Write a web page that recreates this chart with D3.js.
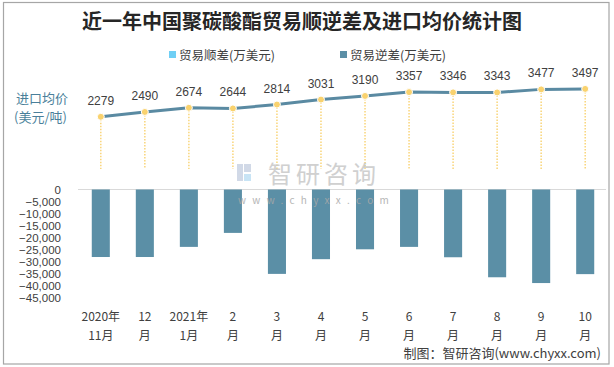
<!DOCTYPE html>
<html><head><meta charset="utf-8">
<script src="https://cdn.jsdelivr.net/npm/d3@7"></script>
<style>
body{margin:0;background:#fff;}
svg{display:block;font-family:"Noto Sans CJK SC","Noto Sans",sans-serif;}
</style></head>
<body>
<svg id="c" width="614" height="367"></svg>
<script>
const months1 = ["2020年","12","2021年","2","3","4","5","6","7","8","9","10"];
const months2 = ["11月","月","1月","月","月","月","月","月","月","月","月","月"];
const deficit = [-28000,-28000,-23800,-18000,-35000,-28900,-24800,-23800,-28100,-36400,-38800,-35100];
const surplus = [0,0,0,0,0,0,0,0,0,0,0,0];
const price = [2279,2490,2674,2644,2814,3031,3190,3357,3346,3343,3477,3497];
const yTicks = [0,-5000,-10000,-15000,-20000,-25000,-30000,-35000,-40000,-45000];

const svg = d3.select("#c");
svg.append("rect").attr("x",3.5).attr("y",2.5).attr("width",605.5).attr("height",361.5)
  .attr("fill","#fff").attr("stroke","#a6a6a6").attr("stroke-width",1.2);

svg.append("text").attr("x",302).attr("y",29).attr("text-anchor","middle")
  .attr("font-size",20).attr("font-weight","bold").attr("fill","#262626")
  .text("近一年中国聚碳酸酯贸易顺逆差及进口均价统计图");

// legend
const lg = [{c:"#6fcff5",t:"贸易顺差(万美元)",x:169},{c:"#5b8fa6",t:"贸易逆差(万美元)",x:340}];
lg.forEach(d=>{
  svg.append("rect").attr("x",d.x).attr("y",51).attr("width",7).attr("height",7).attr("fill",d.c);
  svg.append("text").attr("x",d.x+10).attr("y",59.5).attr("font-size",12.5).attr("fill","#404040").text(d.t);
});

// left label
svg.append("text").attr("x",16).attr("y",103).attr("font-size",13).attr("fill","#4a7f9a").text("进口均价");
svg.append("text").attr("x",14).attr("y",122).attr("font-size",13).attr("fill","#4a7f9a").text("(美元/吨)");

const x = d3.scaleBand().domain(d3.range(12)).range([79,607]).paddingInner(0.59).paddingOuter(0.29);
const xc = i => x(i)+x.bandwidth()/2;
const y = d3.scaleLinear().domain([-45000,0]).range([298,189.5]);
const yp = d3.scaleLinear().domain([0,4000]).range([169,77.4]);

// zero line
svg.append("line").attr("x1",78).attr("x2",606).attr("y1",189.5).attr("y2",189.5).attr("stroke","#d9d9d9").attr("stroke-width",1);

// y ticks
const yAxis = d3.axisLeft(y).tickValues(yTicks).tickSize(0).tickFormat(d3.format(","));
const ga = svg.append("g").attr("transform","translate(64,0)").call(yAxis);
ga.select(".domain").remove();
ga.selectAll("text").attr("font-size",11.5).attr("fill","#404040").attr("font-family","'Liberation Sans',Arial,sans-serif").attr("dx",0);

// bars
svg.selectAll("rect.bar").data(deficit).enter().append("rect").attr("class","bar")
  .attr("x",(d,i)=>x(i)).attr("width",x.bandwidth())
  .attr("y",y(0)).attr("height",d=>y(d)-y(0)).attr("fill","#5b8fa6");
svg.selectAll("rect.bar2").data(surplus).enter().append("rect").attr("class","bar2")
  .attr("x",(d,i)=>x(i)).attr("width",x.bandwidth())
  .attr("y",d=>y(d)).attr("height",d=>y(0)-y(d)).attr("fill","#6fcff5");

// drop lines
svg.selectAll("line.drop").data(price).enter().append("line")
  .attr("x1",(d,i)=>xc(i)).attr("x2",(d,i)=>xc(i)).attr("y1",d=>yp(d)).attr("y2",yp(0))
  .attr("stroke","#f9d57a").attr("stroke-width",1.5).attr("stroke-dasharray","1.5,1.5");

// line
const line = d3.line().x((d,i)=>xc(i)).y(d=>yp(d));
svg.append("path").datum(price).attr("d",line).attr("fill","none")
  .attr("stroke","#5a8aa2").attr("stroke-width",3);

// dots
svg.selectAll("circle.pt").data(price).enter().append("circle")
  .attr("cx",(d,i)=>xc(i)).attr("cy",d=>yp(d)).attr("r",3.5)
  .attr("fill","#f9d26e").attr("stroke","#fff").attr("stroke-width",1);

// labels
svg.selectAll("text.pl").data(price).enter().append("text")
  .attr("x",(d,i)=>xc(i)).attr("y",d=>yp(d)-12).attr("text-anchor","middle")
  .attr("font-size",12).attr("fill","#404040").attr("font-family","'Liberation Sans',Arial,sans-serif")
  .text(d=>d);

// x labels
months1.forEach((m,i)=>{
  svg.append("text").attr("x",xc(i)).attr("y",321).attr("text-anchor","middle").attr("font-size",12).attr("fill","#404040").text(m);
  svg.append("text").attr("x",xc(i)).attr("y",340).attr("text-anchor","middle").attr("font-size",12).attr("fill","#404040").text(months2[i]);
});

svg.append("text").attr("x",601).attr("y",358).attr("text-anchor","end").attr("font-size",13).attr("fill","#404040")
  .text("制图：智研咨询(www.chyxx.com)");

// watermark (on top)
const wm = svg.append("g").attr("opacity",0.85);
wm.append("rect").attr("x",237).attr("y",164).attr("width",6).attr("height",17).attr("fill","#c9d3e3");
wm.append("rect").attr("x",244).attr("y",164).attr("width",7).attr("height",8).attr("fill","#c9d3e3");
wm.append("rect").attr("x",244).attr("y",174).attr("width",7).attr("height",7).attr("fill","#bfe0f4");
wm.append("text").attr("x",268).attr("y",183).attr("font-size",24).attr("fill","#c8c8c8").attr("letter-spacing",4).text("智研咨询");
wm.append("text").attr("x",238).attr("y",204).attr("font-size",10).attr("fill","#a9a9a9").attr("letter-spacing",6.3).text("www.chyxx.com");
</script>
</body></html>
